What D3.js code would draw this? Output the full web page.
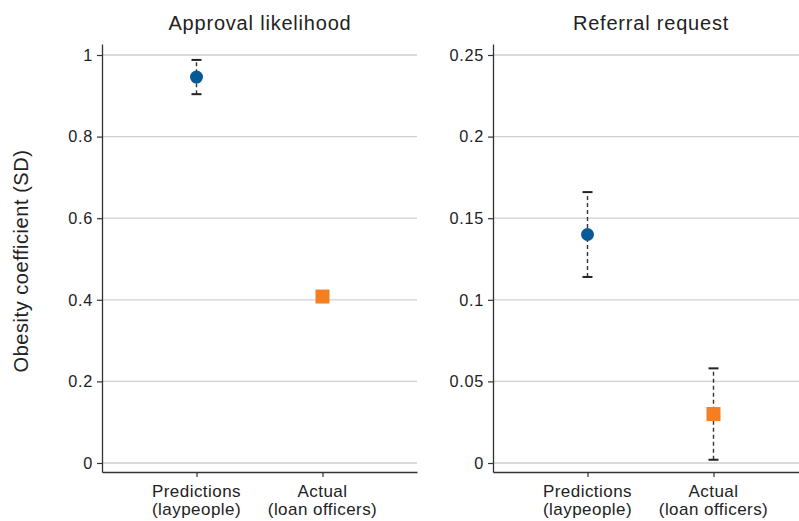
<!DOCTYPE html>
<html>
<head>
<meta charset="utf-8">
<script src="https://cdn.jsdelivr.net/npm/d3@7"></script>
<style>
  html, body { margin: 0; padding: 0; background: #fff; }
  svg { display: block; font-family: "Liberation Sans", Arial, Helvetica, sans-serif; }
</style>
</head>
<body>
<svg id="chart" width="799" height="521"></svg>
<script>
// Categories shared by both panels
const categories = ["Predictions\n(laypeople)", "Actual\n(loan officers)"];

// Panel titles
const panelTitles = ["Approval likelihood", "Referral request"];

// Approval likelihood: estimate, lower, upper
const approvalEstimate = [0.946, 0.408];
const approvalLower = [0.904, 0.406];
const approvalUpper = [0.988, 0.410];

// Referral request: estimate, lower, upper
const referralEstimate = [0.140, 0.030];
const referralLower = [0.114, 0.002];
const referralUpper = [0.166, 0.058];

// Tick values for each panel
const approvalTicks = [0, 0.2, 0.4, 0.6, 0.8, 1];
const referralTicks = [0, 0.05, 0.1, 0.15, 0.2, 0.25];

const colors = ["#075a96", "#f57f20"];
const svg = d3.select("#chart");

const plotTop = 44, plotBottom = 472;

const panels = [
  { title: panelTitles[0], est: approvalEstimate, lo: approvalLower, hi: approvalUpper,
    ticks: approvalTicks, domain: [-0.0221, 1.027], x0: 102, width: 315 },
  { title: panelTitles[1], est: referralEstimate, lo: referralLower, hi: referralUpper,
    ticks: referralTicks, domain: [-0.00551, 0.25674], x0: 493, width: 315 }
];

panels.forEach(p => {
  const y = d3.scaleLinear().domain(p.domain).range([plotBottom, plotTop]);
  const x = d3.scalePoint().domain(categories).range([p.x0, p.x0 + p.width]).padding(0.75);
  const g = svg.append("g");

  // gridlines
  g.append("g").selectAll("line").data(p.ticks).join("line")
    .attr("x1", p.x0).attr("x2", p.x0 + p.width)
    .attr("y1", d => y(d)).attr("y2", d => y(d))
    .attr("stroke", "#cfcfcf").attr("stroke-width", 1.3);

  // y axis
  const yAxis = g.append("g").attr("transform", `translate(${p.x0},0)`)
    .call(d3.axisLeft(y).tickValues(p.ticks).tickFormat(d3.format("")).tickSize(5).tickSizeOuter(0));
  yAxis.select(".domain").attr("stroke", "#333").attr("stroke-width", 1.3);
  yAxis.selectAll(".tick line").attr("stroke", "#333").attr("stroke-width", 1.2);
  yAxis.selectAll(".tick text").attr("font-size", 16.3).attr("fill", "#222")
    .attr("letter-spacing", 0.7)
    .attr("font-family", "Liberation Sans, Arial, sans-serif").attr("x", -9);

  // x axis
  const xAxis = g.append("g").attr("transform", `translate(0,${plotBottom})`)
    .call(d3.axisBottom(x).tickSize(5).tickSizeOuter(0).tickFormat(""));
  xAxis.select(".domain").attr("stroke", "#333").attr("stroke-width", 1.3);
  xAxis.selectAll(".tick line").attr("stroke", "#333").attr("stroke-width", 1.2);

  // two-line category labels
  const lab = g.append("g").selectAll("text").data(categories).join("text")
    .attr("x", d => x(d)).attr("text-anchor", "middle")
    .attr("font-size", 17).attr("letter-spacing", 0.45).attr("fill", "#222");
  lab.each(function(d) {
    const parts = d.split("\n");
    d3.select(this).selectAll("tspan").data(parts).join("tspan")
      .attr("x", x(d)).attr("y", (s, i) => 497 + i * 18).text(s => s);
  });

  // title
  g.append("text").attr("x", p.x0 + 158).attr("y", 30)
    .attr("text-anchor", "middle").attr("font-size", 20).attr("letter-spacing", 0.8)
    .attr("fill", "#222").text(p.title);

  // error bars
  const eb = g.append("g").selectAll("g").data(categories).join("g");
  eb.append("line")
    .attr("x1", d => x(d)).attr("x2", d => x(d))
    .attr("y1", (d, i) => y(p.lo[i])).attr("y2", (d, i) => y(p.hi[i]))
    .attr("stroke", "#333").attr("stroke-width", 1.4).attr("stroke-dasharray", "4,3");
  [p.lo, p.hi].forEach(arr => {
    eb.append("line")
      .attr("x1", d => x(d) - 5).attr("x2", d => x(d) + 5)
      .attr("y1", (d, i) => y(arr[i])).attr("y2", (d, i) => y(arr[i]))
      .attr("stroke", "#222").attr("stroke-width", 2);
  });

  // markers: circle for predictions, square for actual
  g.append("circle").attr("cx", x(categories[0])).attr("cy", y(p.est[0]))
    .attr("r", 6.5).attr("fill", colors[0]);
  g.append("rect").attr("x", x(categories[1]) - 7).attr("y", y(p.est[1]) - 7)
    .attr("width", 14).attr("height", 14).attr("fill", colors[1]);
});

// shared y-axis label
svg.append("text")
  .attr("transform", "translate(28,261) rotate(-90)")
  .attr("text-anchor", "middle").attr("font-size", 20).attr("letter-spacing", 0.55)
  .attr("fill", "#222")
  .text("Obesity coefficient (SD)");
</script>
</body>
</html>
